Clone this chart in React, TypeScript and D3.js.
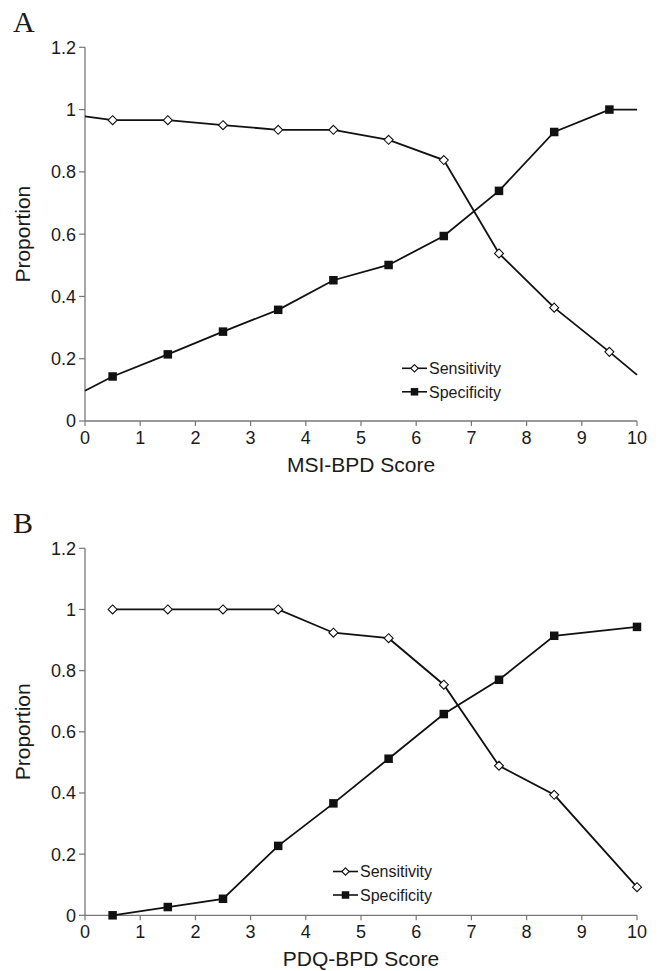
import React from "react";
import * as d3 from "d3";

const xTicks = [0, 1, 2, 3, 4, 5, 6, 7, 8, 9, 10];
const yTicks = [0, 0.2, 0.4, 0.6, 0.8, 1, 1.2];

const scoresA = [0, 0.5, 1.5, 2.5, 3.5, 4.5, 5.5, 6.5, 7.5, 8.5, 9.5, 10];
const sensA = [0.978, 0.966, 0.966, 0.95, 0.935, 0.935, 0.903, 0.838, 0.538, 0.364, 0.222, 0.148];
const specA = [0.097, 0.143, 0.214, 0.287, 0.357, 0.452, 0.501, 0.594, 0.739, 0.928, 1.0, 1.0];
const markedA = [false, true, true, true, true, true, true, true, true, true, true, false];

const scoresB = [0.5, 1.5, 2.5, 3.5, 4.5, 5.5, 6.5, 7.5, 8.5, 10];
const sensB = [1, 1, 1, 1, 0.924, 0.906, 0.754, 0.489, 0.394, 0.092];
const specB = [0, 0.027, 0.054, 0.227, 0.366, 0.512, 0.658, 0.77, 0.914, 0.943];
const markedB = [true, true, true, true, true, true, true, true, true, true];

const seriesNames = ["Sensitivity", "Specificity"];

const FONT = "Liberation Sans, Arial, Helvetica, sans-serif";
const TEXT = "#1a1a1a";
const AXIS = "#777";
const LINE = "#111";

function Diamond({ cx, cy, r }: { cx: number; cy: number; r: number }) {
  return (
    <path
      d={`M${cx},${cy - r}L${cx + r},${cy}L${cx},${cy + r}L${cx - r},${cy}Z`}
      fill="#fff"
      stroke={LINE}
      strokeWidth={1.1}
    />
  );
}

function Square({ cx, cy, s }: { cx: number; cy: number; s: number }) {
  return <rect x={cx - s / 2} y={cy - s / 2} width={s} height={s} fill={LINE} />;
}

type PanelProps = {
  letter: string;
  top: number;
  bottom: number;
  xTitle: string;
  scores: number[];
  sens: number[];
  spec: number[];
  marked: boolean[];
  legendX: number;
  legendY: number;
};

function Panel({ letter, top, bottom, xTitle, scores, sens, spec, marked, legendX, legendY }: PanelProps) {
  const left = 85;
  const right = 637;
  const x = d3.scaleLinear().domain([0, 10]).range([left, right]);
  const y = d3.scaleLinear().domain([0, 1.2]).range([bottom, top]);
  const line = d3
    .line<[number, number]>()
    .x((d) => x(d[0]))
    .y((d) => y(d[1]));
  const sensPts: [number, number][] = scores.map((s, i) => [s, sens[i]]);
  const specPts: [number, number][] = scores.map((s, i) => [s, spec[i]]);

  return (
    <g>
      <text x={13} y={top - 15} fontFamily="Liberation Serif, Times New Roman, serif" fontSize={30} fill={TEXT}>
        {letter}
      </text>
      {/* axes */}
      <line x1={left} x2={left} y1={top} y2={bottom} stroke={AXIS} strokeWidth={1.3} />
      <line x1={left} x2={right} y1={bottom} y2={bottom} stroke={AXIS} strokeWidth={1.3} />
      {yTicks.map((t) => (
        <g key={"y" + t}>
          <line x1={left - 6} x2={left} y1={y(t)} y2={y(t)} stroke={AXIS} strokeWidth={1.2} />
          <text
            x={left - 9}
            y={y(t)}
            dy="0.36em"
            textAnchor="end"
            fontFamily={FONT}
            fontSize={18}
            fill={TEXT}
          >
            {String(t)}
          </text>
        </g>
      ))}
      {xTicks.map((t) => (
        <g key={"x" + t}>
          <line x1={x(t)} x2={x(t)} y1={bottom} y2={bottom + 5} stroke={AXIS} strokeWidth={1.2} />
          <text x={x(t)} y={bottom + 23} textAnchor="middle" fontFamily={FONT} fontSize={18} fill={TEXT}>
            {String(t)}
          </text>
        </g>
      ))}
      <text
        x={(left + right) / 2}
        y={bottom + 51}
        textAnchor="middle"
        fontFamily={FONT}
        fontSize={21}
        fill={TEXT}
      >
        {xTitle}
      </text>
      <text
        transform={`translate(30,${(top + bottom) / 2}) rotate(-90)`}
        textAnchor="middle"
        fontFamily={FONT}
        fontSize={21}
        fill={TEXT}
      >
        Proportion
      </text>
      {/* lines */}
      <path d={line(sensPts) || ""} fill="none" stroke={LINE} strokeWidth={1.8} />
      <path d={line(specPts) || ""} fill="none" stroke={LINE} strokeWidth={1.8} />
      {specPts.map((p, i) =>
        marked[i] ? <Square key={"sq" + i} cx={x(p[0])} cy={y(p[1])} s={8.5} /> : null
      )}
      {sensPts.map((p, i) =>
        marked[i] ? <Diamond key={"dm" + i} cx={x(p[0])} cy={y(p[1])} r={4.5} /> : null
      )}
      {/* legend */}
      {seriesNames.map((name, i) => {
        const ly = legendY + i * 23.5;
        return (
          <g key={name}>
            <line x1={legendX} x2={legendX + 25} y1={ly} y2={ly} stroke={LINE} strokeWidth={1.6} />
            {i === 0 ? (
              <Diamond cx={legendX + 12.5} cy={ly} r={3.7} />
            ) : (
              <Square cx={legendX + 12.5} cy={ly} s={7.5} />
            )}
            <text x={legendX + 27} y={ly} dy="0.36em" fontFamily={FONT} fontSize={16} fill={TEXT}>
              {name}
            </text>
          </g>
        );
      })}
    </g>
  );
}

export default function App() {
  return (
    <svg
      width={660}
      height={971}
      style={{ position: "absolute", left: 0, top: 0, background: "#fff" }}
    >
      <rect width={660} height={971} fill="#fff" />
      <Panel
        letter="A"
        top={47.3}
        bottom={421}
        xTitle="MSI-BPD Score"
        scores={scoresA}
        sens={sensA}
        spec={specA}
        marked={markedA}
        legendX={402}
        legendY={368.3}
      />
      <Panel
        letter="B"
        top={548.3}
        bottom={915.3}
        xTitle="PDQ-BPD Score"
        scores={scoresB}
        sens={sensB}
        spec={specB}
        marked={markedB}
        legendX={333}
        legendY={871.5}
      />
    </svg>
  );
}
